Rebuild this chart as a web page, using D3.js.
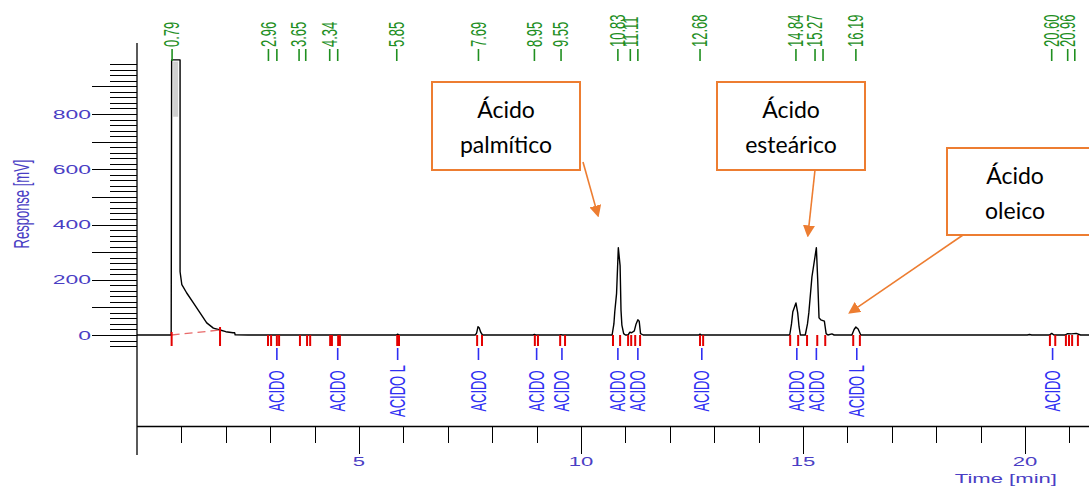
<!DOCTYPE html>
<html>
<head>
<meta charset="utf-8">
<script src="https://cdn.jsdelivr.net/npm/d3@7"></script>
<style>
  html, body { margin: 0; padding: 0; background: #fff; }
  svg { display: block; }
</style>
</head>
<body>
<svg id="chart" width="1089" height="489"></svg>
<script>
// Detector trace: retention time (min) and response (mV)
const traceTime = [0, 0.77, 0.78, 0.97, 0.97, 1.01, 1.12, 1.27, 1.42, 1.57, 1.72, 1.87, 2.0, 2.16, 2.2, 2.21, 2.5,
  5.84, 5.87, 5.9, 7.62, 7.65, 7.68, 7.71, 7.74, 7.78, 8.92, 8.95, 8.98, 9.52, 9.55, 9.58,
  10.70, 10.74, 10.76, 10.80, 10.84, 10.88, 10.90, 10.92, 10.96, 11.0, 11.06, 11.1, 11.14, 11.2, 11.24, 11.28, 11.31, 11.34, 11.4,
  12.65, 12.68, 12.71, 14.70, 14.74, 14.77, 14.84, 14.88, 14.91, 14.94, 15.05, 15.10, 15.13, 15.20, 15.30, 15.33, 15.36, 15.40, 15.48, 15.52, 15.56,
  15.65, 15.7, 15.75, 16.10, 16.15, 16.19, 16.24, 16.3, 20.05, 20.1, 20.15, 20.55, 20.6, 20.65, 20.9, 20.96, 21.05, 21.15, 21.25, 21.44];
const traceSignal = [0, 0, 996, 996, 229, 182, 152, 116, 80, 44, 25, 18, 12, 8, 8, 1, 0,
  0, 3, 0, 0, 8, 30, 25, 10, 0, 0, 2, 0, 0, 1.5, 0,
  0, 40, 84, 150, 316, 250, 90, 36, 5, 0, 0, 10, 8, 15, 40, 55, 50, 5, 0,
  0, 3, 0, 0, 40, 84, 116, 80, 30, 0, 0, 40, 80, 210, 316, 200, 62, 55, 50, 5, 0,
  4, 0, 0, 0, 20, 29, 22, 0, 0, 2, 0, 0, 6, 0, 0, 5, 4, 6, 0, 0];

// Retention times printed above the peaks
const rtLabels = ["0.79", "2.96", "3.65", "4.34", "5.85", "7.69", "8.95", "9.55", "10.83", "11.11", "12.68", "14.84", "15.27", "16.19", "20.60", "20.96"];
// All detected peak apexes (marker ticks)
const peakTimes = [0.79, 2.96, 3.15, 3.65, 3.80, 4.34, 4.52, 5.85, 7.69, 8.95, 9.55, 10.83, 11.11, 11.28, 12.68, 14.84, 15.27, 15.45, 16.19, 20.60, 20.96, 21.12];

// Integration start/end markers
const integrationMarks = [0.78, 1.87, 2.95, 3.02, 3.15, 3.2, 3.67, 3.83, 3.90, 4.35, 4.39, 4.53, 4.57, 5.86, 5.90,
  7.66, 7.77, 8.96, 9.03, 9.53, 9.64, 10.72, 10.88, 11.06, 11.13, 11.22, 11.33, 12.68, 12.75,
  14.71, 14.89, 15.09, 15.32, 15.50, 16.13, 16.28, 20.56, 20.68, 20.92, 20.99, 21.06, 21.19];

// Identified components
const compTimes = [3.15, 4.52, 5.87, 7.69, 9.0, 9.57, 10.83, 11.28, 12.72, 14.86, 15.30, 16.21, 20.62];
const compNames = ["ACIDO", "ACIDO", "ACIDO L", "ACIDO", "ACIDO", "ACIDO", "ACIDO", "ACIDO", "ACIDO", "ACIDO", "ACIDO", "ACIDO L", "ACIDO"];

// Axis ticks
const yTickLabels = [0, 200, 400, 600, 800];
const xTickLabels = [5, 10, 15, 20];

// Annotations: text lines and the (time, mV) point each arrow points at
const calloutLines = [["Ácido", "palmítico"], ["Ácido", "esteárico"], ["Ácido", "oleico"]];
const calloutTargets = [[10.38, 434], [15.11, 362], [16.06, 82]];

const svg = d3.select("#chart");
svg.append("rect").attr("width", 1089).attr("height", 489).attr("fill", "#fff");

const x = d3.scaleLinear().domain([0, 21.44]).range([137, 1089]);
const y = d3.scaleLinear().domain([0, 1000]).range([335, 58.75]);

const SX = 1.7; // horizontally stretched lettering
const axisBlue = "#4a3ec4";
const green = "#1f8f1f";
const red = "#e30000";
const blue = "#2f2ff2";
const orange = "#ED7D31";

// ---- Y axis ----
const yAxis = svg.append("g");
yAxis.append("line").attr("x1", 137).attr("x2", 137).attr("y1", 43).attr("y2", 455)
  .attr("stroke", "#000").attr("stroke-width", 1.3);
const yMinor = d3.range(-40, 1000, 20);
yAxis.selectAll("line.tk").data(yMinor).join("line").attr("class", "tk")
  .attr("x1", d => d % 100 === 0 ? 92 : 110).attr("x2", 137)
  .attr("y1", d => Math.round(y(d)) + 0.5).attr("y2", d => Math.round(y(d)) + 0.5)
  .attr("stroke", "#000").attr("stroke-width", 1);
yAxis.selectAll("text").data(yTickLabels).join("text")
  .attr("transform", d => `translate(91,${y(d)}) scale(${SX},1)`)
  .attr("text-anchor", "end").attr("dominant-baseline", "central")
  .attr("font-family", "Liberation Sans, Arial, sans-serif").attr("font-size", 13.5)
  .attr("fill", axisBlue).text(d => d);
svg.append("text")
  .attr("transform", `translate(22,204) scale(${SX},1) rotate(-90)`)
  .attr("text-anchor", "middle").attr("dominant-baseline", "central")
  .attr("font-family", "Liberation Sans, Arial, sans-serif").attr("font-size", 13)
  .attr("fill", axisBlue).text("Response [mV]");

// ---- X axis ----
const xAxisY = 426;
svg.append("line").attr("x1", 137).attr("x2", 1089).attr("y1", xAxisY + 0.5).attr("y2", xAxisY + 0.5)
  .attr("stroke", "#000").attr("stroke-width", 1.3);
svg.selectAll("line.xt").data(d3.range(1, 22)).join("line").attr("class", "xt")
  .attr("x1", d => Math.round(x(d)) + 0.5).attr("x2", d => Math.round(x(d)) + 0.5)
  .attr("y1", xAxisY).attr("y2", d => d % 5 === 0 ? 454 : 443)
  .attr("stroke", "#000").attr("stroke-width", 1);
svg.selectAll("text.xl").data(xTickLabels).join("text").attr("class", "xl")
  .attr("transform", d => `translate(${x(d)},462) scale(${SX},1)`)
  .attr("text-anchor", "middle").attr("dominant-baseline", "central")
  .attr("font-family", "Liberation Sans, Arial, sans-serif").attr("font-size", 13)
  .attr("fill", axisBlue).text(d => d);
svg.append("text")
  .attr("transform", `translate(1057,479) scale(${SX},1)`)
  .attr("text-anchor", "end").attr("dominant-baseline", "central")
  .attr("font-family", "Liberation Sans, Arial, sans-serif").attr("font-size", 13)
  .attr("fill", axisBlue).text("Time [min]");

// ---- Trace ----
const pts = traceTime.map((t, i) => [t, traceSignal[i]]);
const line = d3.line().x(d => x(d[0])).y(d => y(d[1]));
// dense raw points inside the off-scale solvent peak
svg.append("line")
  .attr("x1", x(0.87)).attr("x2", x(0.87)).attr("y1", y(990)).attr("y2", y(790))
  .attr("stroke", "#d0d0d0").attr("stroke-width", 5);
svg.append("path").datum(pts).attr("d", line)
  .attr("fill", "none").attr("stroke", "#000").attr("stroke-width", 1.4).attr("stroke-linejoin", "round");

// baseline of the solvent peak
svg.append("line")
  .attr("x1", x(0.78)).attr("y1", y(0)).attr("x2", x(1.87)).attr("y2", y(18))
  .attr("stroke", "#e86a6a").attr("stroke-width", 1.3).attr("stroke-dasharray", "8,5");

// integration markers
svg.selectAll("line.im").data(integrationMarks).join("line").attr("class", "im")
  .attr("x1", d => x(d)).attr("x2", d => x(d))
  .attr("y1", (d, i) => i < 2 ? y(d === 0.78 ? 0 : 18) - 3 : y(0)).attr("y2", y(0) + 11)
  .attr("stroke", red).attr("stroke-width", 2);

// retention-time markers
svg.selectAll("line.pt").data(peakTimes).join("line").attr("class", "pt")
  .attr("x1", d => x(d)).attr("x2", d => x(d)).attr("y1", 49).attr("y2", 61)
  .attr("stroke", green).attr("stroke-width", 1.6);
svg.selectAll("text.rt").data(rtLabels).join("text").attr("class", "rt")
  .attr("transform", d => `translate(${x(+d)},47) scale(${SX},1) rotate(-90)`)
  .attr("text-anchor", "start").attr("dominant-baseline", "central")
  .attr("font-family", "Liberation Sans, Arial, sans-serif").attr("font-size", 13)
  .attr("fill", green).text(d => d);

// component names
svg.selectAll("line.cn").data(compTimes).join("line").attr("class", "cn")
  .attr("x1", d => x(d)).attr("x2", d => x(d)).attr("y1", 348).attr("y2", 360)
  .attr("stroke", blue).attr("stroke-width", 1.6);
svg.selectAll("text.cn").data(compTimes).join("text").attr("class", "cn")
  .attr("transform", d => `translate(${x(d)},391) scale(${SX},1) rotate(-90)`)
  .attr("text-anchor", "middle").attr("dominant-baseline", "central")
  .attr("font-family", "Liberation Sans, Arial, sans-serif").attr("font-size", 13)
  .attr("fill", blue).text((d, i) => compNames[i]);

// ---- Callouts ----
const boxes = [
  { x: 432, y: 82, w: 148, h: 88, from: [583, 162] },
  { x: 717, y: 82, w: 148, h: 88, from: [815, 170] },
  { x: 947, y: 148, w: 150, h: 87, from: [963, 235] }
];
const defs = svg.append("defs");
defs.append("marker").attr("id", "arrowhead").attr("viewBox", "0 0 10 10")
  .attr("refX", 8).attr("refY", 5).attr("markerWidth", 7.5).attr("markerHeight", 7.5)
  .attr("markerUnits", "strokeWidth").attr("orient", "auto")
  .append("path").attr("d", "M0,0 L10,5 L0,10 z").attr("fill", orange);

boxes.forEach((b, i) => {
  const tgt = calloutTargets[i];
  svg.append("line")
    .attr("x1", b.from[0]).attr("y1", b.from[1])
    .attr("x2", x(tgt[0])).attr("y2", y(tgt[1]))
    .attr("stroke", orange).attr("stroke-width", 1.6).attr("marker-end", "url(#arrowhead)");
  svg.append("rect").attr("x", b.x).attr("y", b.y).attr("width", b.w).attr("height", b.h)
    .attr("fill", "#fff").attr("stroke", orange).attr("stroke-width", 2);
  const cx = b.x + (i === 2 ? 68 : b.w / 2);
  calloutLines[i].forEach((s, j) => {
    svg.append("text").attr("x", cx).attr("y", b.y + 36 + j * 35)
      .attr("text-anchor", "middle")
      .attr("font-family", "Lato, Open Sans, sans-serif").attr("font-size", 23)
      .attr("fill", "#000").text(s);
  });
});
</script>
</body>
</html>
